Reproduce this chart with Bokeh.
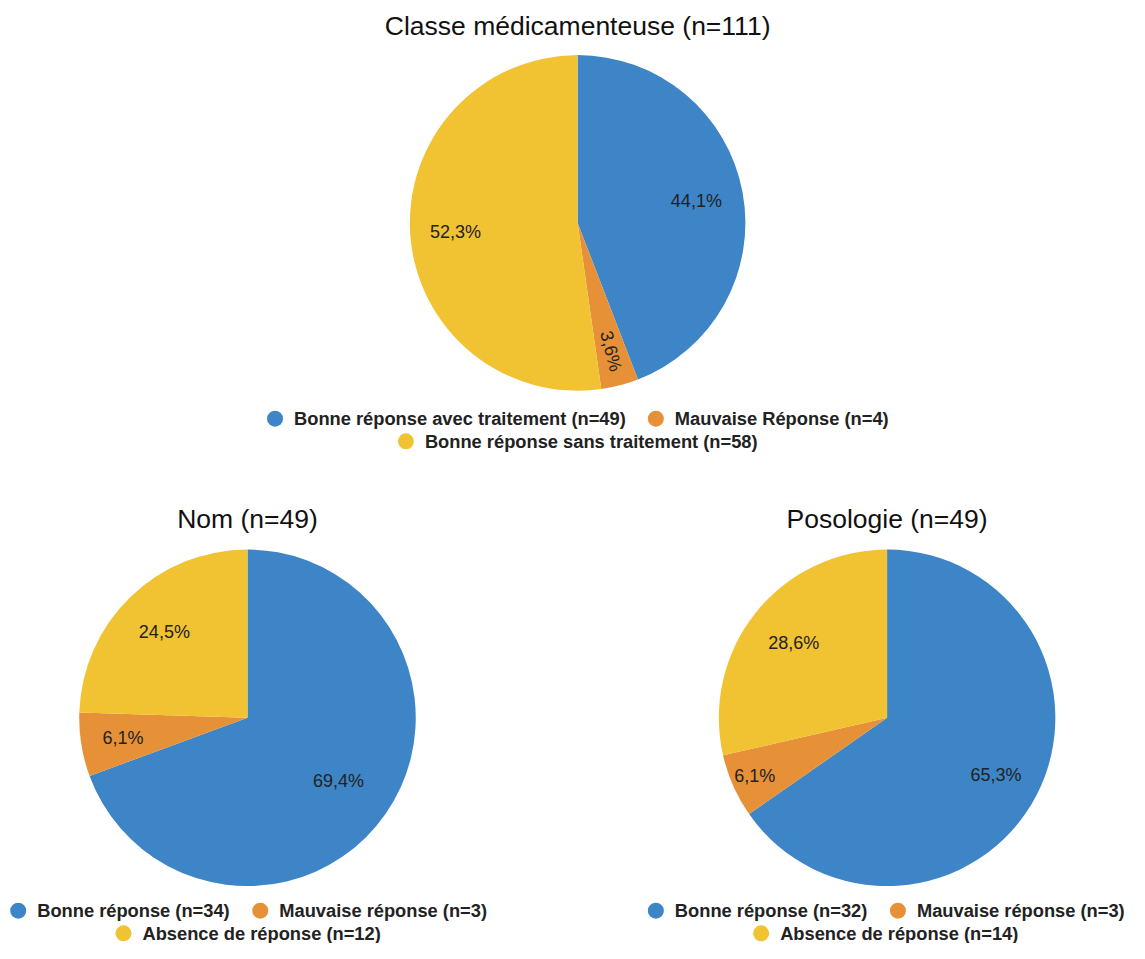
import math
from bokeh.plotting import figure
from bokeh.models import Range1d
from bokeh.core.properties import value
from bokeh.embed import file_html
from bokeh.resources import INLINE

# ---------------- data ----------------
titles = ["Classe médicamenteuse (n=111)", "Nom (n=49)", "Posologie (n=49)"]

classe_labels = ["Bonne réponse avec traitement (n=49)",
                 "Mauvaise Réponse (n=4)",
                 "Bonne réponse sans traitement (n=58)"]
classe_counts = [49, 4, 58]

nom_labels = ["Bonne réponse (n=34)",
              "Mauvaise réponse (n=3)",
              "Absence de réponse (n=12)"]
nom_counts = [34, 3, 12]

poso_labels = ["Bonne réponse (n=32)",
               "Mauvaise réponse (n=3)",
               "Absence de réponse (n=14)"]
poso_counts = [32, 3, 14]

colors = ["#3d85c6", "#e69138", "#f1c232"]

# ---------------- layout (screen-pixel style constants) ----------------
W, H = 1129, 943
S = 0.984          # global layout scale so everything fits the window
FONT = "Liberation Sans"


def X(ix):
    return ix * S


def Y(iy):
    return H - iy * S


pies = [
    dict(title=titles[0], labels=classe_labels, counts=classe_counts,
         cx=586.5, cy=226, r=170.5, title_y=26,
         label_r=[0.72, 0.79, 0.73],
         rows=[(425, [0, 1], [279, 666]), (448, [2], [412])]),
    dict(title=titles[1], labels=nom_labels, counts=nom_counts,
         cx=251, cy=729, r=171, title_y=527,
         label_r=[0.66, 0.75, 0.71],
         rows=[(925, [0, 1], [18, 264]), (948, [2], [125])]),
    dict(title=titles[2], labels=poso_labels, counts=poso_counts,
         cx=901, cy=729, r=171, title_y=527,
         label_r=[0.73, 0.86, 0.71],
         rows=[(925, [0, 1], [666, 912]), (948, [2], [773])]),
]

p = figure(width=W, height=H, output_backend="svg", toolbar_location=None,
           x_range=Range1d(0, W), y_range=Range1d(0, H),
           x_axis_type=None, y_axis_type=None, min_border=0,
           background_fill_color="white", border_fill_color="white")
p.outline_line_color = None
p.grid.visible = False

for pie in pies:
    counts = pie["counts"]
    total = sum(counts)
    cx, cy = X(pie["cx"]), Y(pie["cy"])
    r = pie["r"] * S
    cum = 0.0
    for i, c in enumerate(counts):
        frac = c / total
        a0 = math.pi / 2 - 2 * math.pi * cum
        a1 = math.pi / 2 - 2 * math.pi * (cum + frac)
        p.wedge(x=[cx], y=[cy], radius=r, radius_units="screen",
                start_angle=[a0], end_angle=[a1], direction="clock",
                fill_color=colors[i], line_color=None)
        mid = 2 * math.pi * (cum + frac / 2)
        rr = r * pie["label_r"][i]
        lx = cx + rr * math.sin(mid)
        ly = cy + rr * math.cos(mid)
        pct = f"{100 * frac:.1f}".replace(".", ",") + "%"
        ang = (math.pi / 2 - mid) if frac < 0.05 else 0.0
        p.text(x=[lx], y=[ly], text=[pct], angle=[ang],
               text_align="center", text_baseline="middle",
               text_font=value(FONT), text_font_size="18px",
               text_color="#222222")
        cum += frac
    # title
    p.text(x=[cx], y=[Y(pie["title_y"])], text=[pie["title"]],
           text_align="center", text_baseline="middle",
           text_font=value(FONT), text_font_size="26.5px",
           text_color="#111111")
    # legend
    for (ry, idxs, dxs) in pie["rows"]:
        for k, dx in zip(idxs, dxs):
            p.scatter(x=[X(dx)], y=[Y(ry)], size=16, marker="circle",
                      fill_color=colors[k], line_color=None)
            p.text(x=[X(dx) + 19], y=[Y(ry)], text=[pie["labels"][k]],
                   text_align="left", text_baseline="middle",
                   text_font=value(FONT), text_font_size="18.3px",
                   text_font_style="bold", text_color="#222222")

open("out.html", "w").write(file_html(p, INLINE))
